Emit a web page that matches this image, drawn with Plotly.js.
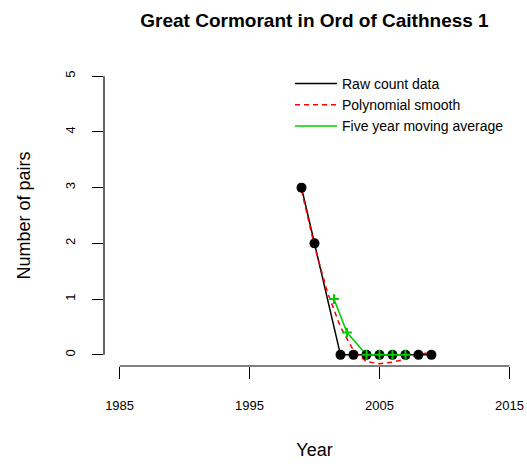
<!DOCTYPE html>
<html>
<head>
<meta charset="utf-8">
<script src="https://cdn.plot.ly/plotly-3.0.1.min.js"></script>
<style>html,body{margin:0;padding:0;background:#fff;}#chart{width:527px;height:464px;}</style>
</head>
<body>
<div id="chart"></div>
<script>
// Data
var rawYears = [1999, 2000, 2002, 2003, 2004, 2005, 2006, 2007, 2008, 2009];
var rawCounts = [3, 2, 0, 0, 0, 0, 0, 0, 0, 0];
var smoothYears = [1999, 2000, 2001, 2002, 2003, 2004, 2005, 2006, 2007, 2008, 2009];
var smoothValues = [2.95, 1.95, 1.12, 0.5, 0.08, -0.12, -0.16, -0.13, -0.08, 0.0, 0.05];
var maYears = [2001.5, 2002.5, 2004, 2005, 2006, 2007];
var maValues = [1.0, 0.4, 0, 0, 0, 0];
var xTicks = [1985, 1995, 2005, 2015];
var yTicks = [0, 1, 2, 3, 4, 5];
var legendNames = ["Raw count data", "Polynomial smooth", "Five year moving average"];

var FONT = "Liberation Sans, Arial, Helvetica, sans-serif";
var GREEN = "#00CD00";

var traces = [
  {x: rawYears, y: rawCounts, mode: "lines", name: legendNames[0],
   line: {color: "#000000", width: 1.5}},
  {x: smoothYears, y: smoothValues, mode: "lines", name: legendNames[1],
   line: {color: "#FF0000", width: 1.5, dash: "5px,4px"}},
  {x: maYears, y: maValues, mode: "lines", name: legendNames[2],
   line: {color: GREEN, width: 1.5}},
  {x: rawYears, y: rawCounts, mode: "markers", showlegend: false, hoverinfo: "skip",
   marker: {color: "#000000", size: 10, symbol: "circle"}},
  {x: maYears, y: maValues, mode: "markers", showlegend: false, hoverinfo: "skip",
   marker: {symbol: "cross-thin", size: 7, color: GREEN, line: {color: GREEN, width: 2}}}
];

var layout = {
  width: 527, height: 464,
  margin: {l: 104, r: 2, t: 65, b: 98},
  paper_bgcolor: "#ffffff", plot_bgcolor: "#ffffff",
  font: {family: FONT, color: "#000000"},
  title: {text: "<b>Great Cormorant in Ord of Caithness 1</b>",
          font: {family: FONT, size: 19, color: "#000000"},
          x: 0.5, xref: "paper", y: 1 - 20/464, yref: "container", yanchor: "middle"},
  xaxis: {range: [1983.8, 2016.2], tickvals: xTicks, ticktext: xTicks.map(String),
          showgrid: false, zeroline: false, showline: false,
          ticks: "outside", ticklen: 12, tickwidth: 1.2, tickcolor: "#000",
          ticklabelstandoff: 15,
          tickfont: {family: FONT, size: 13, color: "#000"},
          title: {text: "Year", font: {family: FONT, size: 18, color: "#000"}, standoff: 31}},
  yaxis: {range: [-0.2, 5.2], tickvals: yTicks, ticktext: yTicks.map(String),
          showgrid: false, zeroline: false, showline: false,
          ticks: "outside", ticklen: 11, tickwidth: 1.2, tickcolor: "#000",
          tickangle: -90, ticklabelstandoff: 12,
          tickfont: {family: FONT, size: 13, color: "#000"},
          title: {text: "Number of pairs", font: {family: FONT, size: 18, color: "#000"}, standoff: 27}},
  showlegend: true,
  legend: {x: (290 - 104) / 421, xanchor: "left", y: 1 - (68 - 65) / 301, yanchor: "top",
           bgcolor: "rgba(0,0,0,0)", borderwidth: 0, itemwidth: 42,
           font: {family: FONT, size: 14, color: "#000"}, tracegroupgap: 0},
  shapes: [
    {type: "line", xref: "x", yref: "paper", x0: xTicks[0], x1: xTicks[xTicks.length - 1], y0: 0, y1: 0,
     line: {color: "#000", width: 1.2}},
    {type: "line", xref: "paper", yref: "y", x0: 0, x1: 0, y0: yTicks[0], y1: yTicks[yTicks.length - 1],
     line: {color: "#000", width: 1.2}}
  ]
};

Plotly.newPlot("chart", traces, layout, {displayModeBar: false, staticPlot: true});
</script>
</body>
</html>
